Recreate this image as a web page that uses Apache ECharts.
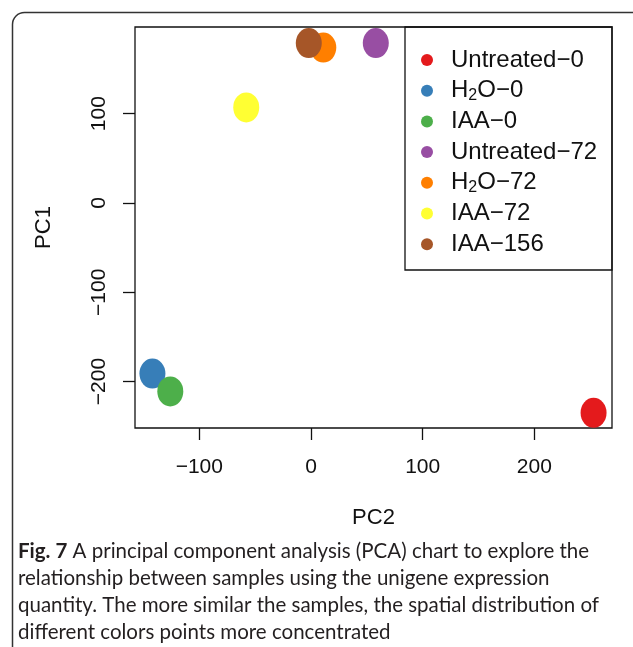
<!DOCTYPE html>
<html>
<head>
<meta charset="utf-8">
<script src="https://cdn.jsdelivr.net/npm/echarts@6/dist/echarts.min.js"></script>
<style>
  html, body { margin: 0; padding: 0; background: #fff; }
  #main { width: 633px; height: 647px; }
</style>
</head>
<body>
<div id="main"></div>
<script>
// samples, in legend order
const samples = ['Untreated-0', 'H2O-0', 'IAA-0', 'Untreated-72', 'H2O-72', 'IAA-72', 'IAA-156'];
// PC2 is the horizontal axis, PC1 the vertical one
const pc2 = [253, -142, -126, 58, 11, -58, -2];
const pc1 = [-235, -191, -211, 179, 174, 107, 179];
const xTicks = [-100, 0, 100, 200];
const yTicks = [-200, -100, 0, 100];

// R "Set1" colours
const palette = ['#E41A1C', '#377EB8', '#4DAF4A', '#984EA3', '#FF7F00', '#FFFF33', '#A65628'];

const chart = echarts.init(document.getElementById('main'));
const ellipse = 'path://M0,1A1,1,0,1,1,2,1A1,1,0,1,1,0,1Z';
const minus = v => String(v).replace('-', '\u2212');
const font = 'Liberation Sans';

chart.setOption({
  animation: false,
  textStyle: { fontFamily: font },
  grid: {
    left: 135, right: 21, top: 27, bottom: 219,
    show: true, borderColor: '#111', borderWidth: 1.3
  },
  xAxis: {
    type: 'value',
    min: -157.6, max: 269.5,
    name: 'PC2', nameLocation: 'middle', nameGap: 79,
    nameTextStyle: { fontSize: 22, color: '#111', fontFamily: font },
    axisLine: { show: false, onZero: false },
    splitLine: { show: false },
    axisTick: { show: true, length: 12, lineStyle: { color: '#111', width: 1.3 }, customValues: xTicks },
    axisLabel: { margin: 29, fontSize: 21, color: '#111', fontFamily: font, customValues: xTicks, formatter: minus }
  },
  yAxis: {
    type: 'value',
    min: -252, max: 197,
    name: 'PC1', nameLocation: 'middle', nameGap: 80, nameRotate: 90,
    nameTextStyle: { fontSize: 22, color: '#111', fontFamily: font },
    axisLine: { show: false, onZero: false },
    splitLine: { show: false },
    axisTick: { show: true, length: 12, lineStyle: { color: '#111', width: 1.3 }, customValues: yTicks },
    axisLabel: { margin: 25, fontSize: 21, color: '#111', fontFamily: font, rotate: 90, customValues: yTicks, formatter: minus }
  },
  legend: {
    orient: 'vertical',
    left: 416, top: 42,
    icon: 'circle',
    itemWidth: 38, itemHeight: 12, itemGap: 4.7,
    data: samples,
    formatter: n => minus(n).replace('H2O', 'H{sub|2}O'),
    textStyle: {
      fontSize: 24, lineHeight: 26, color: '#111', fontFamily: font,
      rich: { sub: { fontSize: 16, lineHeight: 14, verticalAlign: 'bottom', fontFamily: font, color: '#111' } }
    }
  },
  graphic: [
    {
      type: 'rect', silent: true, z: -1,
      shape: { x: 12.5, y: 12.5, width: 700, height: 700, r: 12 },
      style: { fill: 'none', stroke: '#333', lineWidth: 1.5 }
    },
    {
      type: 'rect', silent: true,
      shape: { x: 405, y: 27, width: 207, height: 243 },
      style: { fill: 'none', stroke: '#111', lineWidth: 1.3 }
    },
    {
      type: 'text', left: 18, top: 538,
      style: {
        text: '{b|Fig. 7} A principal component analysis (PCA) chart to explore the\n' +
              'relationship between samples using the unigene expression\n' +
              'quantity. The more similar the samples, the spatial distribution of\n' +
              'different colors points more concentrated',
        font: '20.5px Lato', lineHeight: 27, fill: '#231f20',
        rich: { b: { fontFamily: 'Lato', fontWeight: 'bold', fontSize: 20.5, lineHeight: 27, fill: '#231f20' } }
      }
    }
  ],
  series: samples.map((name, i) => ({
    name: name,
    type: 'scatter',
    symbol: ellipse,
    symbolSize: [26, 30],
    itemStyle: { color: palette[i], opacity: 1 },
    data: [[pc2[i], pc1[i]]]
  }))
});
</script>
</body>
</html>
